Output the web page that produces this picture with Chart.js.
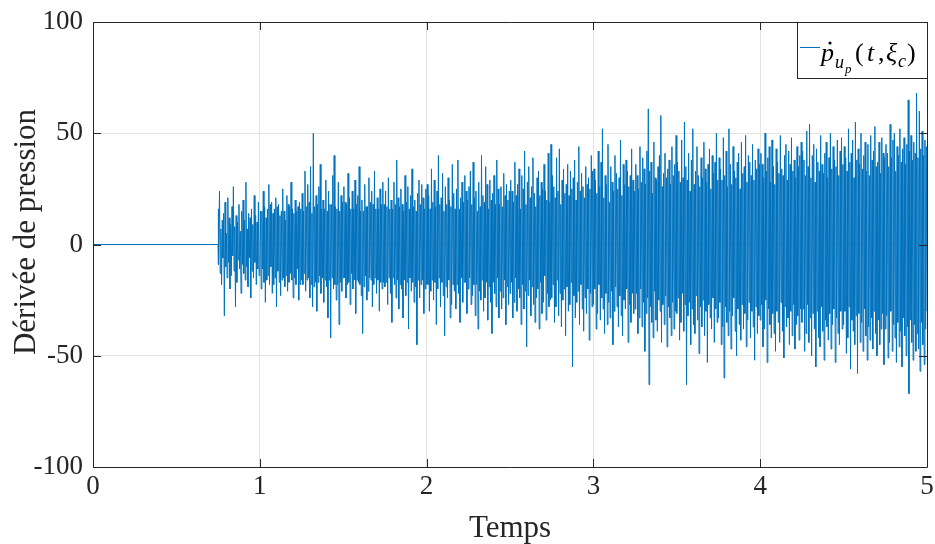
<!DOCTYPE html>
<html>
<head>
<meta charset="utf-8">
<script src="https://cdn.jsdelivr.net/npm/chart.js@4.4.1/dist/chart.umd.min.js"></script>
<style>
  html, body { margin: 0; padding: 0; background: #fff; }
  #wrap { width: 935px; height: 544px; }
</style>
</head>
<body>
<div id="wrap"><canvas id="chart" width="935" height="544"></canvas></div>
<script>
// flat part before the excitation starts
const quietTimes = [0, 0.75];
const quietValues = [0, 0];

// signal, one array per quarter of a time unit
const signalStart = 0.75;
const signalEnd = 5;
const seg075 = [16, -9, 24, -13, 7, -18, 11, -6, 14, -32, 19, -10, 5, -15, 21, -8, 12, -20, 9, -14, 17, -5, 26, -12, 8, -28, 13, -17, 10, -7, 18, -11, 6, -22, 15, -9, 20, -13, 11, -16, 28, -10, 7, -19, 14, -6, 12, -24, 16, -12, 9, -15, 22, -8, 13, -18, 10, -11, 19, -14];
const seg100 = [-13, 15, -20, 15, -11, 24, -17, 17, -26, 12, -16, 16, -14, 27, -18, 18, -10, 19, -22, 14, -18, 16, -15, 21, -28, 17, -12, 18, -17, 13, -23, 15, -16, 25, -15, 15, -19, 11, -14, 22, -21, 18, -17, 17, -13, 28, -16, 16, -24, 14, -15, 20, -18, 15, -11, 17, -25, 19, -18, 16];
const seg125 = [-16, 23, -18, 15, -13, 33, -21, 17, -16, 27, -15, 19, -24, 35, -18, 14, -28, 50, -19, 17, -17, 22, -30, 18, -17, 26, -14, 36, -22, 16, -15, 20, -26, 16, -16, 29, -19, 15, -33, 24, -16, 18, -42, 18, -15, 31, -20, 40, -18, 17, -25, 16, -18, 28, -36, 15, -17, 22, -21, 19];
const seg150 = [-15, 26, -15, 19, -24, 18, -18, 32, -17, 21, -27, 16, -13, 24, -20, 16, -16, 29, -31, 18, -16, 22, -17, 35, -18, 15, -23, 20, -40, 15, -19, 27, -14, 17, -25, 17, -21, 30, -15, 19, -16, 24, -28, 18, -18, 33, -15, 16, -22, 21, -16, 16, -30, 25, -17, 18, -20, 28, -17, 18];
const seg175 = [-19, 24, -17, 17, -27, 30, -15, 16, -22, 20, -35, 16, -15, 28, -18, 18, -24, 38, -16, 21, -29, 17, -18, 25, -20, 18, -33, 15, -16, 31, -23, 19, -17, 26, -38, 16, -15, 22, -21, 34, -17, 17, -26, 20, -19, 15, -45, 23, -16, 29, -24, 18, -18, 27, -16, 21, -31, 16, -20, 25];
const seg200 = [-18, 27, -18, 22, -30, 16, -21, 34, -16, 19, -25, 29, -17, 17, -36, 24, -20, 40, -15, 18, -28, 21, -17, 32, -23, 15, -41, 26, -19, 18, -24, 30, -16, 20, -33, 17, -27, 36, -18, 23, -21, 16, -29, 25, -18, 38, -22, 16, -35, 21, -15, 28, -26, 19, -17, 31, -17, 24, -31, 20];
const seg225 = [-20, 26, -15, 33, -27, 18, -23, 37, -18, 21, -32, 24, -18, 15, -38, 28, -21, 17, -25, 40, -16, 22, -30, 19, -24, 35, -17, 27, -34, 16, -19, 29, -26, 20, -40, 23, -17, 31, -22, 18, -28, 38, -15, 25, -33, 18, -21, 26, -29, 17, -24, 32, -16, 22, -36, 27, -19, 20, -27, 24];
const seg250 = [-22, 29, -17, 24, -33, 19, -26, 37, -15, 22, -30, 27, -20, 34, -24, 16, -36, 31, -18, 25, -29, 42, -21, 18, -46, 28, -23, 35, -16, 21, -32, 26, -19, 39, -27, 23, -35, 17, -24, 30, -20, 33, -38, 22, -17, 28, -31, 25, -26, 36, -14, 24, -34, 20, -22, 41, -28, 19, -25, 45];
const seg275 = [-24, 31, -18, 26, -35, 21, -28, 39, -16, 24, -32, 43, -22, 18, -37, 29, -25, 34, -20, 23, -41, 27, -19, 36, -30, 22, -27, 33, -17, 25, -55, 30, -23, 38, -33, 20, -26, 28, -21, 44, -36, 24, -18, 32, -29, 26, -39, 21, -24, 35, -31, 27, -20, 30, -43, 25, -22, 40, -28, 33];
const seg300 = [-27, 34, -20, 29, -38, 23, -31, 42, -18, 26, -34, 37, -24, 52, -29, 21, -40, 31, -22, 27, -36, 45, -26, 19, -33, 35, -21, 28, -45, 24, -30, 40, -19, 32, -28, 25, -37, 30, -23, 47, -32, 22, -41, 36, -25, 27, -29, 38, -20, 33, -44, 26, -27, 31, -35, 43, -22, 29, -31, 24];
const seg325 = [-29, 36, -22, 31, -40, 25, -33, 44, -20, 28, -37, 39, -26, 34, -48, 27, -31, 42, -24, 61, -63, 33, -28, 37, -35, 23, -42, 46, -21, 30, -34, 29, -39, 35, -25, 40, -30, 58, -44, 26, -27, 32, -36, 41, -23, 30, -46, 34, -28, 38, -33, 27, -41, 44, -26, 31, -38, 36, -30, 49];
const seg350 = [-31, 37, -24, 33, -43, 28, -35, 47, -22, 30, -39, 55, -27, 35, -63, 29, -32, 41, -26, 24, -45, 38, -29, 52, -36, 27, -40, 33, -23, 44, -34, 31, -49, 26, -28, 39, -37, 30, -25, 46, -41, 34, -30, 28, -53, 36, -27, 43, -33, 25, -38, 40, -24, 32, -44, 37, -29, 50, -35, 29];
const seg375 = [-33, 39, -26, 34, -45, 29, -37, 48, -60, 31, -28, 42, -35, 26, -41, 52, -30, 36, -47, 27, -32, 44, -24, 33, -39, 30, -50, 37, -29, 41, -36, 25, -43, 46, -27, 32, -38, 35, -31, 49, -46, 28, -34, 40, -26, 37, -42, 31, -30, 45, -37, 29, -52, 38, -28, 34, -40, 43, -32, 36];
const seg400 = [-34, 41, -27, 36, -46, 30, -38, 50, -25, 33, -53, 39, -29, 44, -36, 28, -42, 47, -31, 35, -40, 27, -48, 43, -30, 37, -35, 32, -44, 49, -26, 34, -39, 31, -51, 40, -28, 45, -37, 29, -33, 42, -45, 36, -30, 48, -41, 33, -27, 38, -47, 30, -36, 44, -32, 35, -43, 40, -29, 46];
const seg425 = [-35, 42, -29, 38, -48, 31, -40, 51, -27, 35, -44, 54, -33, 30, -50, 40, -31, 45, -38, 28, -55, 43, -30, 37, -42, 33, -46, 49, -28, 36, -39, 32, -52, 41, -34, 46, -37, 30, -43, 39, -31, 50, -47, 34, -36, 44, -29, 38, -53, 35, -33, 47, -40, 31, -45, 42, -30, 48, -38, 36];
const seg450 = [-36, 44, -30, 39, -49, 33, -42, 52, -28, 37, -56, 41, -34, 47, -39, 30, -45, 55, -32, 38, -58, 43, -31, 36, -44, 50, -35, 34, -48, 40, -29, 46, -41, 33, -52, 45, -37, 31, -43, 49, -33, 38, -47, 42, -30, 53, -40, 35, -50, 37, -34, 46, -45, 32, -38, 48, -31, 41, -54, 39];
const seg475 = [-38, 45, -32, 41, -51, 35, -44, 54, -30, 39, -48, 47, -36, 50, -42, 33, -53, 44, -35, 40, -46, 52, -39, 37, -55, 43, -33, 48, -41, 36, -50, 45, -37, 65, -67, 42, -34, 49, -44, 38, -52, 46, -36, 41, -48, 68, -40, 39, -47, 60, -57, 43, -35, 51, -45, 40, -54, 47, -38, 44, -30];

const xTicks = [0, 1, 2, 3, 4, 5];
const yTicks = [-100, -50, 0, 50, 100];

const LINE_BLUE = '#0072BD';
const AXIS_DARK = '#262626';
const GRID_GREY = '#e3e3e3';
const SERIF = '"Liberation Serif", "DejaVu Serif", serif';

const signal = [
  ...seg075, ...seg100, ...seg125, ...seg150, ...seg175, ...seg200, ...seg225, ...seg250, ...seg275,
  ...seg300, ...seg325, ...seg350, ...seg375, ...seg400, ...seg425, ...seg450, ...seg475,
];
const step = (signalEnd - signalStart) / (signal.length - 1);

const points = quietTimes.map((t, i) => ({ x: t, y: quietValues[i] }));
signal.forEach((v, i) => points.push({ x: signalStart + i * step, y: v }));

const frame = {
  id: 'frame',
  afterDraw(chart) {
    const { ctx, chartArea: a, scales } = chart;
    const tick = 8;
    ctx.save();
    ctx.strokeStyle = AXIS_DARK;
    ctx.lineWidth = 1;

    // box around axes
    ctx.beginPath();
    ctx.rect(Math.round(a.left) + 0.5, Math.round(a.top) + 0.5, Math.round(a.right - a.left), Math.round(a.bottom - a.top));
    ctx.stroke();

    // inward ticks on all four sides
    ctx.beginPath();
    xTicks.forEach((v) => {
      const px = Math.round(scales.x.getPixelForValue(v)) + 0.5;
      ctx.moveTo(px, a.bottom); ctx.lineTo(px, a.bottom - tick);
      ctx.moveTo(px, a.top); ctx.lineTo(px, a.top + tick);
    });
    yTicks.forEach((v) => {
      const py = Math.round(scales.y.getPixelForValue(v)) + 0.5;
      ctx.moveTo(a.left, py); ctx.lineTo(a.left + tick, py);
      ctx.moveTo(a.right, py); ctx.lineTo(a.right - tick, py);
    });
    ctx.stroke();

    // axis titles
    ctx.fillStyle = AXIS_DARK;
    ctx.font = `31px ${SERIF}`;
    ctx.textAlign = 'center';
    ctx.textBaseline = 'alphabetic';
    ctx.fillText('Temps', (a.left + a.right) / 2, 537);
    ctx.save();
    ctx.translate(35, 232);
    ctx.rotate(-Math.PI / 2);
    ctx.fillText('Dérivée de pression', 0, 0);
    ctx.restore();

    // legend box
    const lx = 797, ly = Math.round(a.top), lw = 130, lh = 56;
    ctx.fillStyle = '#fff';
    ctx.fillRect(lx, ly, lw, lh);
    ctx.strokeStyle = AXIS_DARK;
    ctx.strokeRect(lx + 0.5, ly + 0.5, lw, lh);
    ctx.strokeStyle = LINE_BLUE;
    ctx.beginPath();
    ctx.moveTo(800, 47.5); ctx.lineTo(820, 47.5);
    ctx.stroke();

    ctx.fillStyle = '#000';
    ctx.textAlign = 'left';
    const base = 61;
    ctx.font = `italic 26px ${SERIF}`;
    ctx.fillText('p', 821, base);
    ctx.beginPath();
    ctx.arc(830, 43, 1.6, 0, Math.PI * 2);
    ctx.fill();
    ctx.font = `italic 18px ${SERIF}`;
    ctx.fillText('u', 835, 68);
    ctx.font = `italic 13px ${SERIF}`;
    ctx.fillText('p', 845, 73);
    ctx.font = `26px ${SERIF}`;
    ctx.fillText('(', 855, base);
    ctx.font = `italic 26px ${SERIF}`;
    ctx.fillText('t', 867, base);
    ctx.font = `26px ${SERIF}`;
    ctx.fillText(',', 878, base);
    ctx.font = `italic 26px ${SERIF}`;
    ctx.fillText('ξ', 886, base);
    ctx.font = `italic 18px ${SERIF}`;
    ctx.fillText('c', 898, 67);
    ctx.font = `26px ${SERIF}`;
    ctx.fillText(')', 907, base);
    ctx.restore();
  },
};

new Chart(document.getElementById('chart'), {
  type: 'line',
  data: {
    datasets: [
      {
        data: points,
        borderColor: LINE_BLUE,
        borderWidth: 1,
        pointRadius: 0,
        tension: 0,
        fill: false,
      },
    ],
  },
  options: {
    responsive: false,
    animation: false,
    events: [],
    layout: { padding: { top: 22, right: 8, left: 0, bottom: 0 } },
    plugins: {
      legend: { display: false },
      tooltip: { enabled: false },
    },
    scales: {
      x: {
        type: 'linear',
        min: 0,
        max: 5,
        afterFit(scale) {
          scale.height = 77;
          scale.paddingLeft = 0;
          scale.paddingRight = 0;
        },
        afterBuildTicks(scale) { scale.ticks = xTicks.map((v) => ({ value: v })); },
        ticks: {
          color: AXIS_DARK,
          font: { family: SERIF, size: 27 },
          padding: 4,
          maxRotation: 0,
          callback: (v) => String(v),
        },
        grid: { color: GRID_GREY, drawTicks: false },
        border: { display: false },
      },
      y: {
        type: 'linear',
        min: -100,
        max: 100,
        afterFit(scale) {
          scale.width = 93;
          scale.paddingTop = 0;
          scale.paddingBottom = 0;
        },
        afterBuildTicks(scale) { scale.ticks = yTicks.map((v) => ({ value: v })); },
        ticks: {
          color: AXIS_DARK,
          font: { family: SERIF, size: 27 },
          padding: 10,
          callback: (v) => String(v),
        },
        grid: { color: GRID_GREY, drawTicks: false },
        border: { display: false },
      },
    },
  },
  plugins: [frame],
});
</script>
</body>
</html>
